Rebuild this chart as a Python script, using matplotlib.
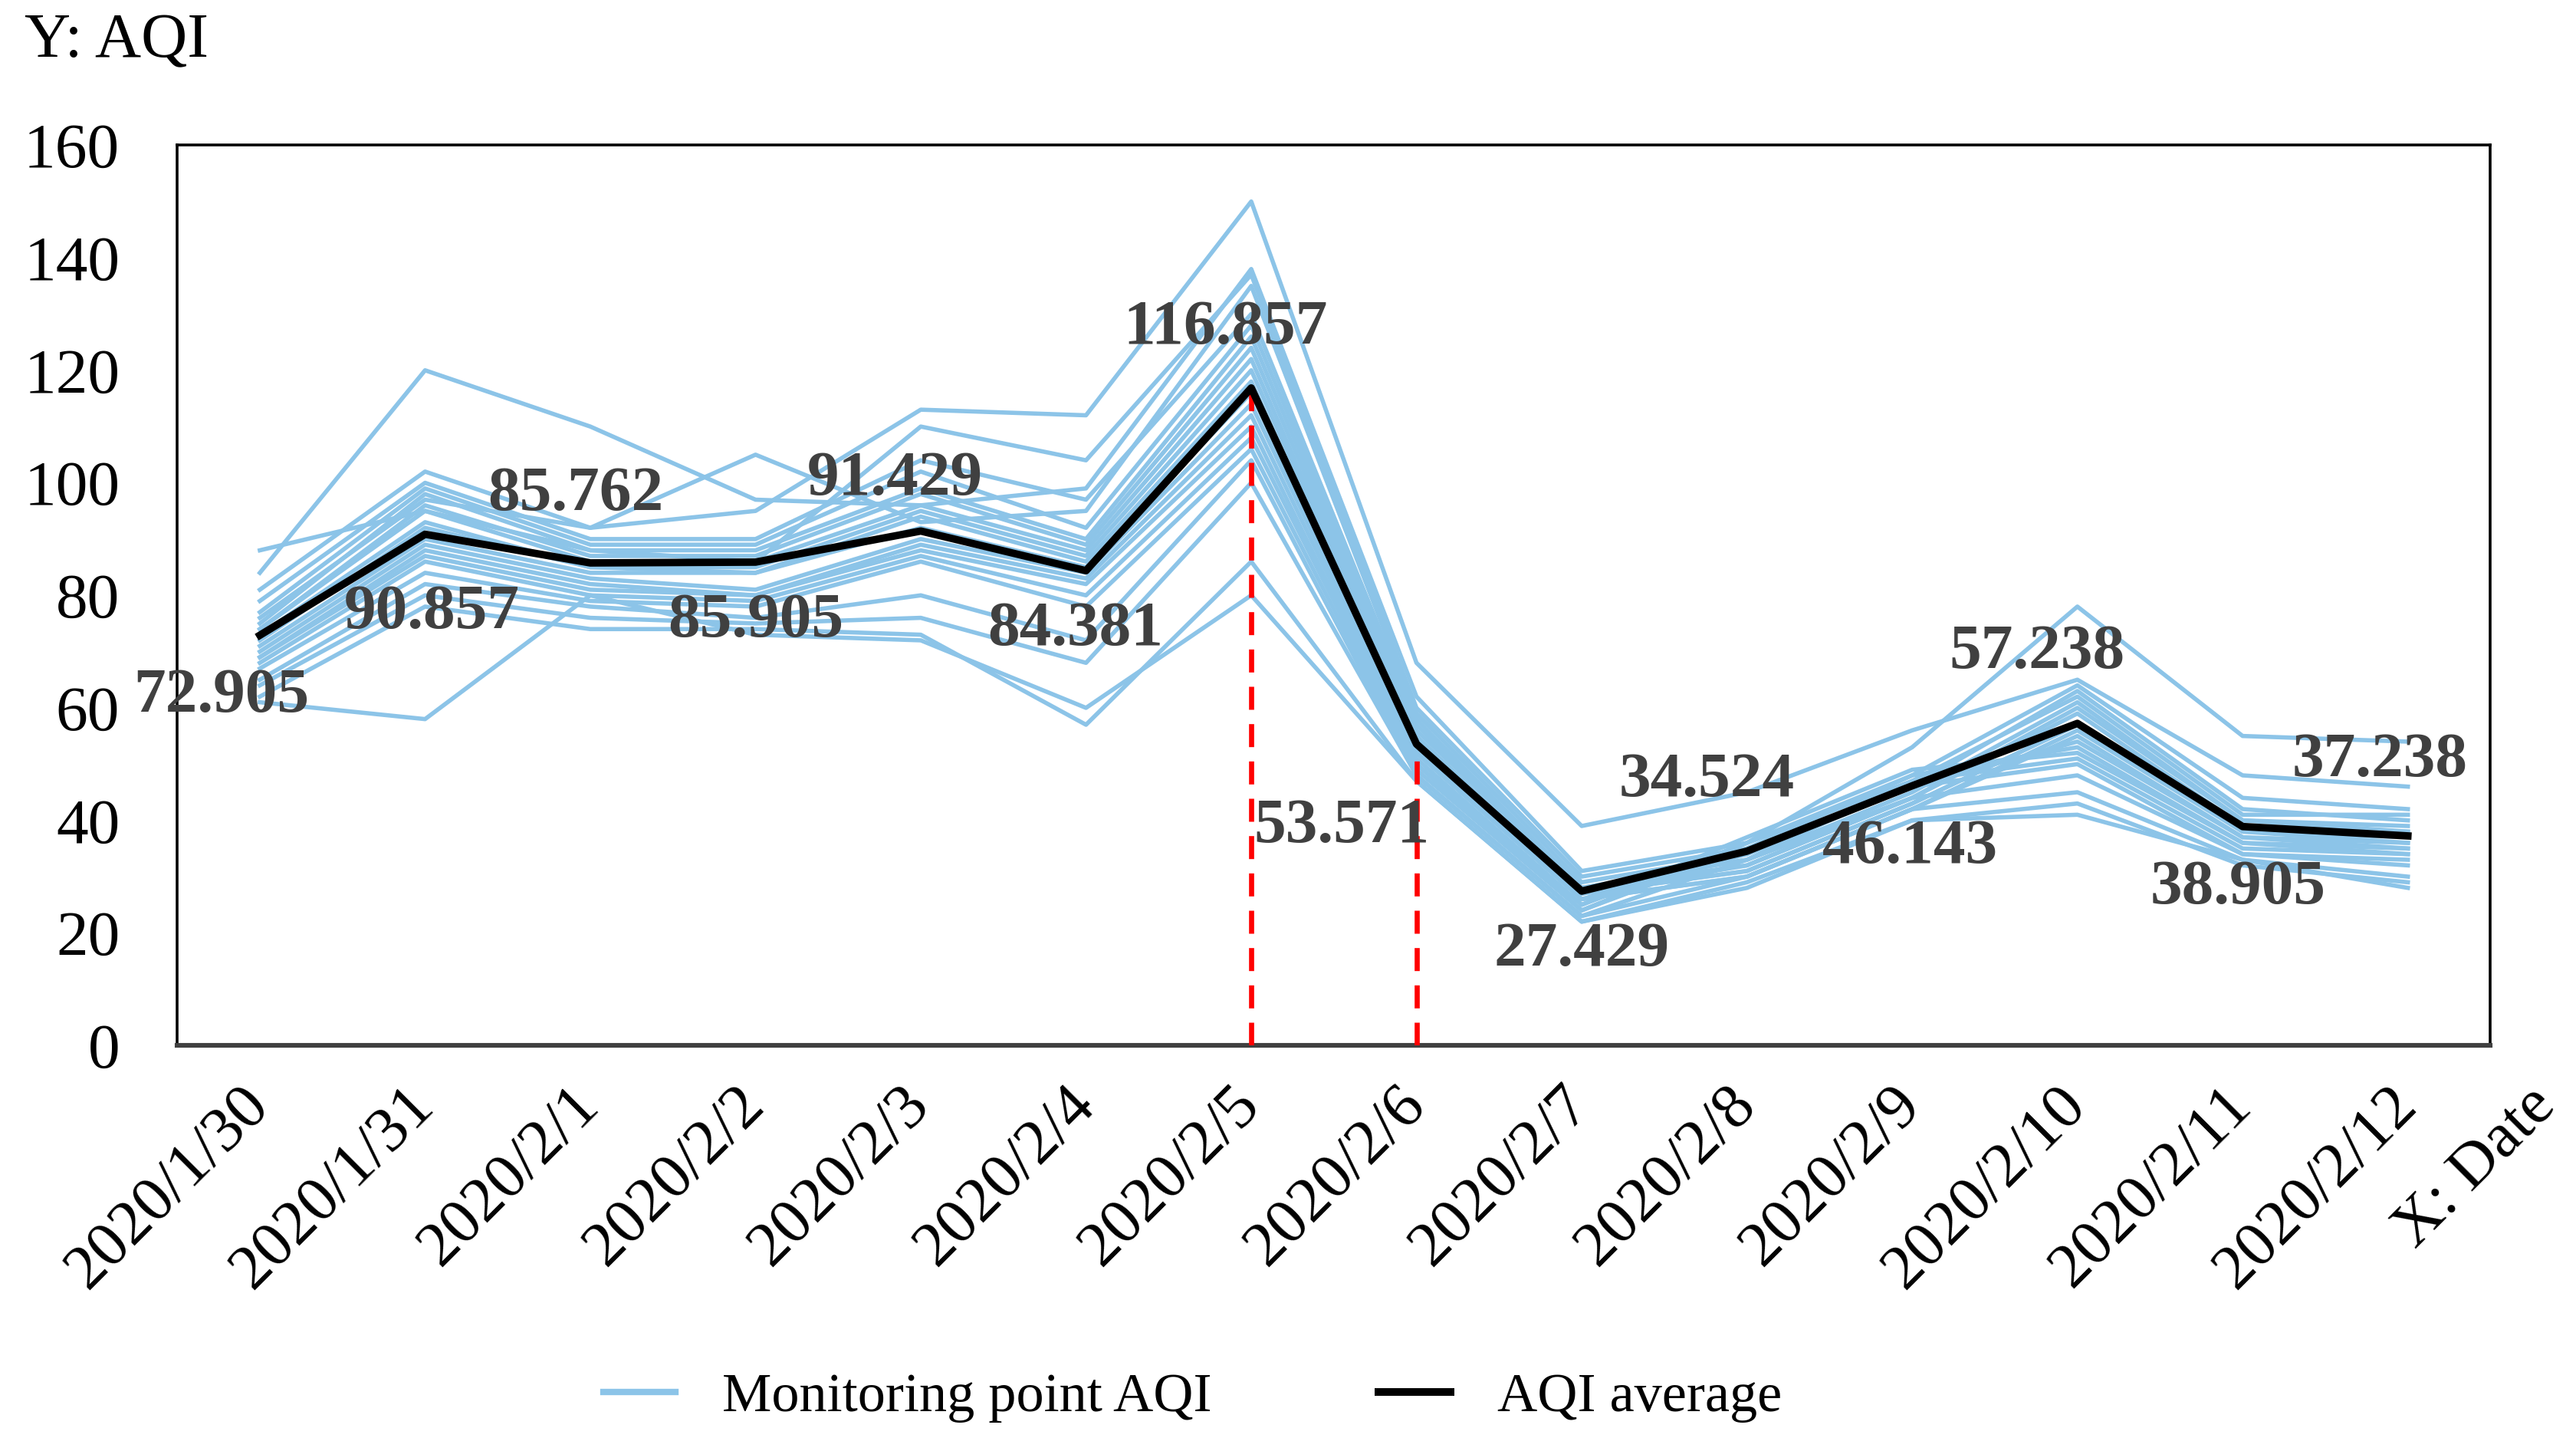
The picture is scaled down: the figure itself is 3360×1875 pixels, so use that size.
import matplotlib
matplotlib.use("Agg")
import matplotlib.pyplot as plt
import matplotlib.transforms as mtransforms
from matplotlib.lines import Line2D

plt.rcParams['font.family'] = ['Liberation Serif', 'DejaVu Serif']

# Fechas del eje X
fechas = ["2020/1/30", "2020/1/31", "2020/2/1", "2020/2/2", "2020/2/3", "2020/2/4", "2020/2/5",
          "2020/2/6", "2020/2/7", "2020/2/8", "2020/2/9", "2020/2/10", "2020/2/11", "2020/2/12"]

# Media del AQI (etiquetas del grafico)
aqiMedia = [72.905, 90.857, 85.762, 85.905, 91.429, 84.381, 116.857,
            53.571, 27.429, 34.524, 46.143, 57.238, 38.905, 37.238]

# AQI de cada punto de monitoreo (estimado del grafico)
p01 = [76, 97, 92, 95, 113, 112, 150, 68, 39, 45, 56, 65, 48, 46]
p02 = [84, 120, 110, 97, 96, 99, 138, 62, 31, 36, 53, 78, 55, 54]
p03 = [88, 95, 88, 86, 110, 104, 137, 60, 30, 35, 48, 64, 44, 42]
p04 = [81, 102, 92, 105, 93, 95, 135, 59, 29, 34, 46, 63, 42, 40]
p05 = [79, 100, 90, 90, 104, 97, 130, 58, 28, 33, 47, 62, 41, 41]
p06 = [77, 99, 89, 89, 102, 92, 128, 57, 28, 33, 45, 61, 40, 39]
p07 = [75, 98, 88, 88, 99, 90, 126, 56, 28, 32, 44, 60, 40, 38]
p08 = [74, 96, 87, 87, 98, 89, 124, 55, 27, 32, 44, 59, 39, 38]
p09 = [74, 95, 86, 86, 96, 88, 122, 54, 27, 31, 43, 57, 39, 37]
p10 = [73, 93, 85, 85, 95, 87, 120, 54, 27, 31, 43, 57, 38, 37]
p11 = [72, 92, 85, 84, 94, 86, 118, 53, 26, 30, 42, 56, 38, 36]
p12 = [71, 90, 84, 84, 92, 85, 116, 52, 26, 30, 42, 55, 37, 36]
p13 = [70, 89, 83, 81, 90, 84, 114, 52, 26, 34, 46, 54, 37, 35]
p14 = [69, 88, 82, 80, 89, 83, 112, 51, 25, 36, 48, 53, 36, 35]
p15 = [69, 87, 81, 80, 88, 82, 110, 50, 25, 37, 49, 52, 36, 34]
p16 = [68, 86, 80, 79, 87, 80, 108, 50, 24, 36, 47, 51, 35, 34]
p17 = [67, 84, 79, 78, 86, 78, 106, 49, 24, 35, 46, 50, 34, 33]
p18 = [65, 82, 78, 76, 80, 72, 104, 48, 23, 33, 44, 48, 34, 32]
p19 = [64, 80, 76, 75, 76, 68, 100, 48, 23, 30, 42, 45, 33, 30]
p20 = [62, 78, 74, 74, 73, 57, 86, 47, 22, 29, 40, 43, 32, 29]
p21 = [61, 58, 80, 73, 72, 60, 80, 47, 22, 28, 40, 41, 33, 28]
puntos = [p01, p02, p03, p04, p05, p06, p07, p08, p09, p10, p11,
          p12, p13, p14, p15, p16, p17, p18, p19, p20, p21]

# Desplazamiento (en puntos) de cada etiqueta respecto a su punto
desplEtiquetas = [(-18, -29), (3, -37), (-7, 32), (0, -28), (-12, 24), (-5, -28), (-12, 28),
                  (-35, -39), (0, -28), (-19, 33), (-1, -29), (-19, 33), (-2, -29), (-13, 35)]

azul = "#8cc4e8"
x = list(range(len(fechas)))

fig = plt.figure(figsize=(16.8, 9.375), dpi=200)
ax = fig.add_axes([0.0688, 0.273, 0.898, 0.626])

for serie in puntos:
    ax.plot(x, serie, color=azul, lw=2.0, zorder=2)
ax.plot(x, aqiMedia, color="black", lw=3.5, zorder=4)

# Lineas rojas discontinuas en 2020/2/5 y 2020/2/6
for i in (6, 7):
    ax.plot([i, i], [0, aqiMedia[i]], color="red", lw=2.4, ls=(0, (4.5, 2.8)), zorder=3)

for i, v in enumerate(aqiMedia):
    ax.annotate(f"{v:.3f}", (i, v), xytext=desplEtiquetas[i], textcoords="offset points",
                ha="center", va="center", fontsize=30, fontweight="bold", color="#404040", zorder=5)

ax.set_xlim(-0.5, 13.5)
ax.set_ylim(0, 160)
ax.set_yticks(range(0, 161, 20))
ax.set_xticks(x)
ax.set_xticklabels(fechas, rotation=45, ha="right", va="center", rotation_mode="anchor")
ax.tick_params(axis="both", length=0, labelsize=30, colors="black")
ax.tick_params(axis="x", pad=24)
ax.tick_params(axis="y", pad=27)
for lado in ax.spines.values():
    lado.set_color("black")
    lado.set_linewidth(1.3)
ax.spines["bottom"].set_color("#404040")
ax.spines["bottom"].set_linewidth(2.2)

fig.text(0.0095, 0.971, "Y: AQI", fontsize=30, ha="left", va="center")

# Etiqueta del eje X, como una marca mas tras la ultima fecha
trans = mtransforms.blended_transform_factory(ax.transData, ax.transAxes)
desplX = mtransforms.ScaledTranslation(0, -24 / 72, fig.dpi_scale_trans)
ax.text(13.84, 0, "X: Date", transform=trans + desplX, rotation=45, ha="right", va="center",
        rotation_mode="anchor", fontsize=30, clip_on=False)

manejadores = [Line2D([0], [0], color=azul, lw=3.0), Line2D([0], [0], color="black", lw=3.6)]
fig.legend(manejadores, ["Monitoring point AQI", "AQI average"], loc="center",
           bbox_to_anchor=(0.463, 0.028), ncol=2, frameon=False, fontsize=26,
           handlelength=1.3, columnspacing=3.0, handletextpad=0.85)

fig.savefig("out.png", dpi=200)
